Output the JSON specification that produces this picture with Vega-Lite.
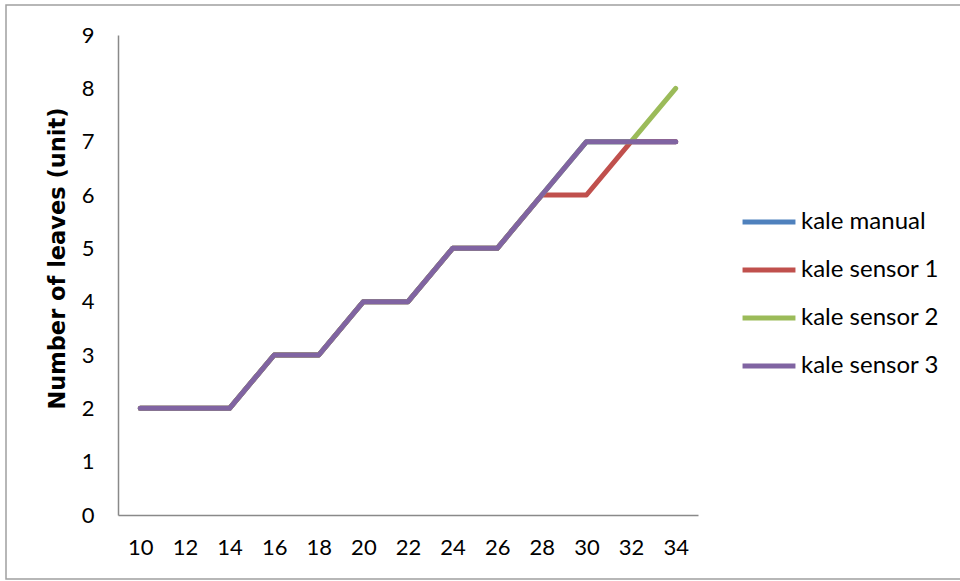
{
  "$schema": "https://vega.github.io/schema/vega-lite/v6.json",
  "autosize": {"type": "none"},
  "padding": {"left": 6, "top": 5, "right": 0, "bottom": 2},
  "width": 970,
  "height": 574,
  "background": "white",
  "data": {
    "values": [
      {"week": 10, "series": "kale manual", "leaves": 2},
      {"week": 12, "series": "kale manual", "leaves": 2},
      {"week": 14, "series": "kale manual", "leaves": 2},
      {"week": 16, "series": "kale manual", "leaves": 3},
      {"week": 18, "series": "kale manual", "leaves": 3},
      {"week": 20, "series": "kale manual", "leaves": 4},
      {"week": 22, "series": "kale manual", "leaves": 4},
      {"week": 24, "series": "kale manual", "leaves": 5},
      {"week": 26, "series": "kale manual", "leaves": 5},
      {"week": 28, "series": "kale manual", "leaves": 6},
      {"week": 30, "series": "kale manual", "leaves": 7},
      {"week": 32, "series": "kale manual", "leaves": 7},
      {"week": 34, "series": "kale manual", "leaves": 7},
      {"week": 10, "series": "kale sensor 1", "leaves": 2},
      {"week": 12, "series": "kale sensor 1", "leaves": 2},
      {"week": 14, "series": "kale sensor 1", "leaves": 2},
      {"week": 16, "series": "kale sensor 1", "leaves": 3},
      {"week": 18, "series": "kale sensor 1", "leaves": 3},
      {"week": 20, "series": "kale sensor 1", "leaves": 4},
      {"week": 22, "series": "kale sensor 1", "leaves": 4},
      {"week": 24, "series": "kale sensor 1", "leaves": 5},
      {"week": 26, "series": "kale sensor 1", "leaves": 5},
      {"week": 28, "series": "kale sensor 1", "leaves": 6},
      {"week": 30, "series": "kale sensor 1", "leaves": 6},
      {"week": 32, "series": "kale sensor 1", "leaves": 7},
      {"week": 34, "series": "kale sensor 1", "leaves": 7},
      {"week": 10, "series": "kale sensor 2", "leaves": 2},
      {"week": 12, "series": "kale sensor 2", "leaves": 2},
      {"week": 14, "series": "kale sensor 2", "leaves": 2},
      {"week": 16, "series": "kale sensor 2", "leaves": 3},
      {"week": 18, "series": "kale sensor 2", "leaves": 3},
      {"week": 20, "series": "kale sensor 2", "leaves": 4},
      {"week": 22, "series": "kale sensor 2", "leaves": 4},
      {"week": 24, "series": "kale sensor 2", "leaves": 5},
      {"week": 26, "series": "kale sensor 2", "leaves": 5},
      {"week": 28, "series": "kale sensor 2", "leaves": 6},
      {"week": 30, "series": "kale sensor 2", "leaves": 7},
      {"week": 32, "series": "kale sensor 2", "leaves": 7},
      {"week": 34, "series": "kale sensor 2", "leaves": 8},
      {"week": 10, "series": "kale sensor 3", "leaves": 2},
      {"week": 12, "series": "kale sensor 3", "leaves": 2},
      {"week": 14, "series": "kale sensor 3", "leaves": 2},
      {"week": 16, "series": "kale sensor 3", "leaves": 3},
      {"week": 18, "series": "kale sensor 3", "leaves": 3},
      {"week": 20, "series": "kale sensor 3", "leaves": 4},
      {"week": 22, "series": "kale sensor 3", "leaves": 4},
      {"week": 24, "series": "kale sensor 3", "leaves": 5},
      {"week": 26, "series": "kale sensor 3", "leaves": 5},
      {"week": 28, "series": "kale sensor 3", "leaves": 6},
      {"week": 30, "series": "kale sensor 3", "leaves": 7},
      {"week": 32, "series": "kale sensor 3", "leaves": 7},
      {"week": 34, "series": "kale sensor 3", "leaves": 7}
    ]
  },
  "mark": {"type": "line", "strokeWidth": 5, "strokeCap": "round", "strokeJoin": "round"},
  "encoding": {
    "x": {
      "field": "week",
      "type": "ordinal",
      "sort": "ascending",
      "scale": {"type": "point", "padding": 0.5, "range": [112, 692]},
      "axis": {
        "title": null,
        "offset": -64,
        "labelAngle": 0,
        "labelPadding": 22,
        "labelOverlap": false,
        "ticks": false,
        "domainColor": "#898989",
        "domainWidth": 1.5,
        "labelFont": "Lato",
        "labelFontSize": 22,
        "labelColor": "#000000",
        "grid": false
      }
    },
    "y": {
      "field": "leaves",
      "type": "quantitative",
      "scale": {"domain": [0, 9], "range": [510, 30], "nice": false, "zero": true},
      "axis": {
        "title": "Number of leaves (unit)",
        "offset": -112,
        "values": [0, 1, 2, 3, 4, 5, 6, 7, 8, 9],
        "labelOverlap": false,
        "ticks": false,
        "grid": false,
        "domainColor": "#898989",
        "domainWidth": 1.5,
        "labelPadding": 24,
        "labelFont": "Lato",
        "labelFontSize": 22,
        "labelColor": "#000000",
        "titleFont": "DejaVu Sans",
        "titleFontSize": 22.5,
        "titleFontWeight": "bold",
        "titleColor": "#000000",
        "titlePadding": 12,
        "titleY": 253
      }
    },
    "color": {
      "field": "series",
      "type": "nominal",
      "scale": {
        "domain": ["kale manual", "kale sensor 1", "kale sensor 2", "kale sensor 3"],
        "range": ["#4F81BD", "#C0504D", "#9BBB59", "#8064A2"]
      },
      "legend": {
        "title": null,
        "orient": "none",
        "legendX": 734,
        "legendY": 188,
        "symbolType": "stroke",
        "symbolSize": 2800,
        "symbolStrokeWidth": 5,
        "labelFont": "Lato",
        "labelFontSize": 24,
        "labelColor": "#000000",
        "labelOffset": 3,
        "rowPadding": 7
      }
    },
    "order": {"field": "week", "type": "quantitative"}
  },
  "config": {
    "view": {"stroke": "#a0a0a0", "strokeWidth": 1.5}
  }
}
